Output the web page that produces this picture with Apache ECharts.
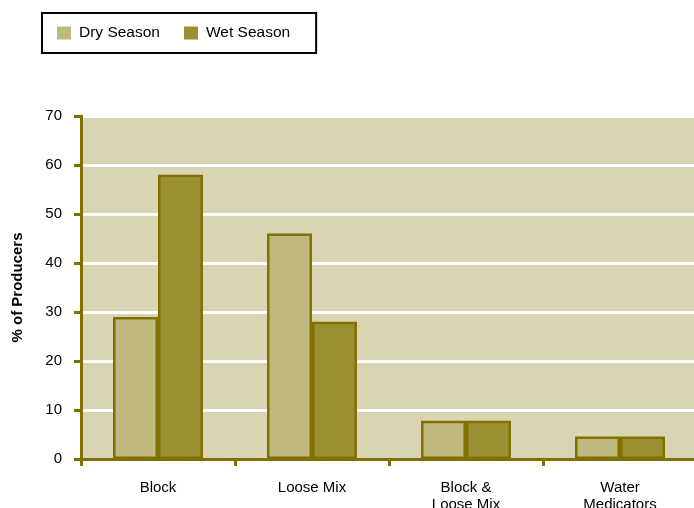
<!DOCTYPE html>
<html><head><meta charset="utf-8">
<script src="https://cdn.jsdelivr.net/npm/echarts@6/dist/echarts.min.js"></script>
<style>html,body{margin:0;padding:0;background:#fff}#c{width:694px;height:508px}</style>
</head><body><div id="c"></div>
<script>
const categories = ['Block', 'Loose Mix', 'Block &\nLoose Mix', 'Water\nMedicators'];
const drySeason = [29, 46, 7.8, 4.6];
const wetSeason = [58, 28, 7.8, 4.6];
const seriesNames = ['Dry Season', 'Wet Season'];

const chart = echarts.init(document.getElementById('c'));
const barStyle = (color) => ({ color: color, borderColor: '#807000', borderWidth: 2.5 });
chart.setOption({
  animation: false,
  textStyle: { fontFamily: 'Liberation Sans, Arial, sans-serif' },
  legend: {
    left: 42, top: 13,
    padding: [12, 26, 12, 15],
    borderColor: '#000', borderWidth: 2,
    itemWidth: 14, itemHeight: 13, itemGap: 24,
    icon: 'rect',
    itemStyle: { borderWidth: 0 },
    textStyle: { fontSize: 15.5, color: '#000', padding: [0, 0, 0, 3] },
    data: seriesNames
  },
  grid: {
    left: 81, right: -3, top: 116, bottom: 49,
    outerBoundsMode: 'none', containLabel: false,
    show: true, backgroundColor: '#d9d4b2', borderWidth: 0
  },
  xAxis: {
    type: 'category', data: categories,
    axisLine: { lineStyle: { color: '#807000', width: 3 } },
    axisTick: { show: true, length: 7, lineStyle: { color: '#807000', width: 3 } },
    axisLabel: { color: '#000', fontSize: 15, lineHeight: 17, margin: 20, interval: 0 }
  },
  yAxis: {
    type: 'value', min: 0, max: 70, interval: 10,
    name: '% of Producers', nameLocation: 'middle', nameGap: 56,
    nameTextStyle: { fontWeight: 'bold', fontSize: 15, color: '#000' },
    axisLine: { show: true, lineStyle: { color: '#807000', width: 3 } },
    axisTick: { show: true, length: 7, lineStyle: { color: '#807000', width: 3 } },
    axisLabel: { color: '#000', fontSize: 15, margin: 19 },
    splitLine: { lineStyle: { color: '#ffffff', width: 3 } }
  },
  series: [
    { name: seriesNames[0], type: 'bar', data: drySeason, barWidth: 45, barGap: '0%', itemStyle: barStyle('#bfb980') },
    { name: seriesNames[1], type: 'bar', data: wetSeason, barWidth: 45, barGap: '0%', itemStyle: barStyle('#9a8f33') }
  ]
});
</script></body></html>
